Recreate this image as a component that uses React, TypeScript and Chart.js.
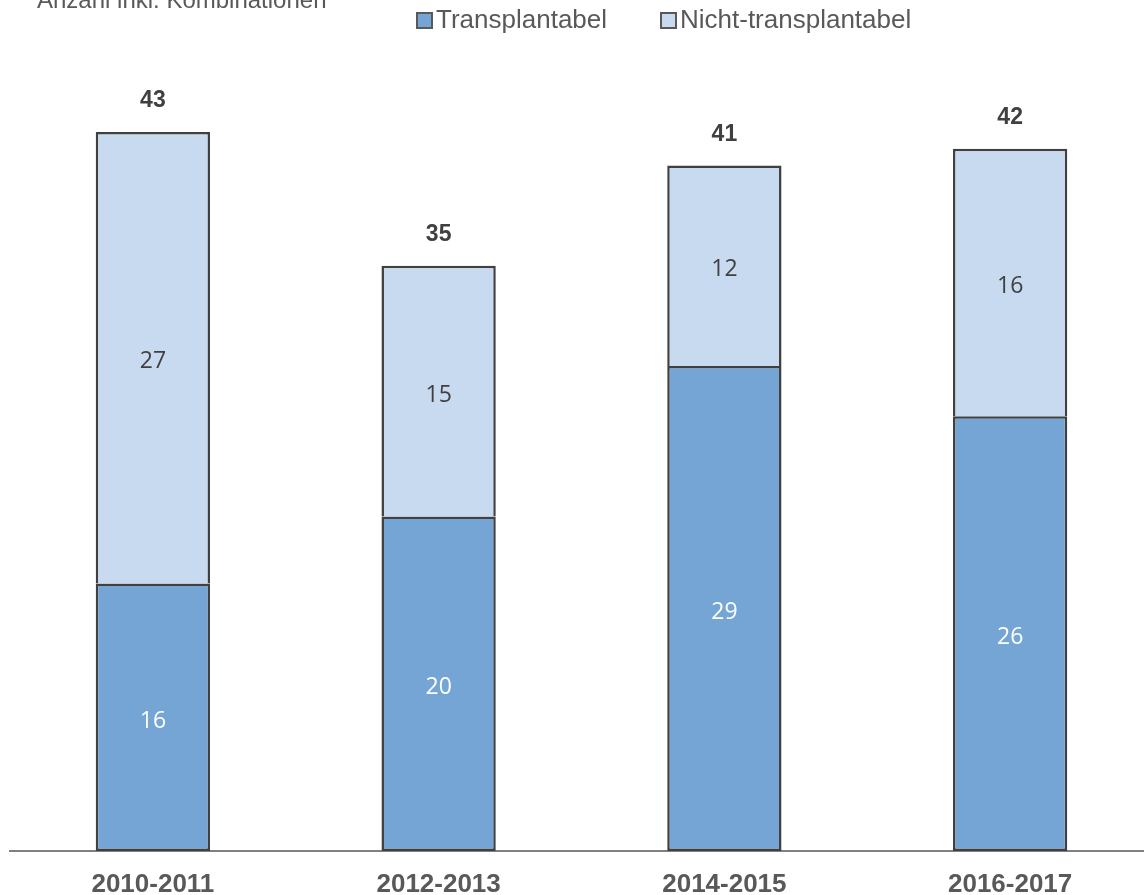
import React, { useEffect, useRef } from "react";
import { Chart, registerables } from "chart.js";

Chart.register(...registerables);

const categories = ["2010-2011", "2012-2013", "2014-2015", "2016-2017"];
const transplantabel = [16, 20, 29, 26];
const nichtTransplantabel = [27, 15, 12, 16];
const seriesNames = ["Transplantabel", "Nicht-transplantabel"];
const titleText = "Anzahl inkl. Kombinationen";

const DARK = "#74A5D4";
const LIGHT = "#C8DAF0";
const BORDER = "#404040";
const TEXT = "#595959";
const TEXT_DARK = "#404040";

export default function App() {
  const ref = useRef<HTMLCanvasElement | null>(null);

  useEffect(() => {
    if (!ref.current) return;

    const labelsPlugin = {
      id: "labelsPlugin",
      afterDatasetsDraw(chart: any) {
        const ctx = chart.ctx;
        ctx.save();
        ctx.textAlign = "center";
        ctx.textBaseline = "middle";
        ctx.font = "23px 'Open Sans'";
        chart.data.datasets.forEach((ds: any, di: number) => {
          const meta = chart.getDatasetMeta(di);
          meta.data.forEach((el: any, i: number) => {
            ctx.fillStyle = di === 0 ? "#FFFFFF" : TEXT_DARK;
            ctx.fillText(String(ds.data[i]), el.x, (el.y + el.base) / 2 + 4);
          });
        });
        const topMeta = chart.getDatasetMeta(chart.data.datasets.length - 1);
        ctx.font = "bold 23px 'Liberation Sans'";
        ctx.fillStyle = TEXT_DARK;
        topMeta.data.forEach((el: any, i: number) => {
          const total = transplantabel[i] + nichtTransplantabel[i];
          ctx.fillText(String(total), el.x, el.y - 31);
        });
        ctx.restore();
      },
      afterDraw(chart: any) {
        const ctx = chart.ctx;
        ctx.save();
        ctx.fillStyle = TEXT;
        ctx.font = "24px 'Liberation Sans'";
        ctx.textAlign = "left";
        ctx.textBaseline = "alphabetic";
        ctx.fillText(titleText, 37, 8);

        const items = [
          { box: 417, text: 436, color: DARK },
          { box: 661, text: 680, color: LIGHT },
        ];
        ctx.font = "26px 'Liberation Sans'";
        ctx.textBaseline = "middle";
        items.forEach((it, i) => {
          ctx.fillStyle = it.color;
          ctx.fillRect(it.box, 13, 15, 15);
          ctx.strokeStyle = TEXT;
          ctx.lineWidth = 2;
          ctx.strokeRect(it.box, 13, 15, 15);
          ctx.fillStyle = TEXT;
          ctx.fillText(seriesNames[i], it.text, 21);
        });
        ctx.restore();
      },
    };

    const chart = new Chart(ref.current, {
      type: "bar",
      data: {
        labels: categories,
        datasets: [
          {
            label: seriesNames[0],
            data: transplantabel,
            backgroundColor: DARK,
            borderColor: BORDER,
            borderWidth: 2.5,
            borderSkipped: false,
          },
          {
            label: seriesNames[1],
            data: nichtTransplantabel,
            backgroundColor: LIGHT,
            borderColor: BORDER,
            borderWidth: 2.5,
            borderSkipped: "bottom",
          },
        ],
      },
      options: {
        responsive: false,
        animation: false,
        layout: { padding: { left: 10, right: 7, top: 15, bottom: 0 } },
        datasets: {
          bar: { barPercentage: 0.4, categoryPercentage: 1 },
        },
        plugins: {
          legend: { display: false },
          title: { display: false },
          tooltip: { enabled: false },
        },
        scales: {
          x: {
            stacked: true,
            grid: { display: false, drawTicks: false },
            border: { display: true, color: "#808080", width: 2 },
            ticks: {
              color: TEXT,
              font: { family: "'Liberation Sans'", size: 26, weight: "bold" },
              padding: 18,
            },
            afterFit: (scale: any) => {
              scale.height = 44;
            },
          },
          y: {
            stacked: true,
            display: false,
            min: 0,
            max: 50,
          },
        },
      },
      plugins: [labelsPlugin],
    });

    return () => chart.destroy();
  }, []);

  return (
    <div
      style={{
        position: "fixed",
        left: 0,
        top: 0,
        width: 1144,
        height: 895,
        overflow: "hidden",
        background: "#FFFFFF",
      }}
    >
      <canvas ref={ref} width={1160} height={895} style={{ width: 1160, height: 895, display: "block" }} />
    </div>
  );
}
